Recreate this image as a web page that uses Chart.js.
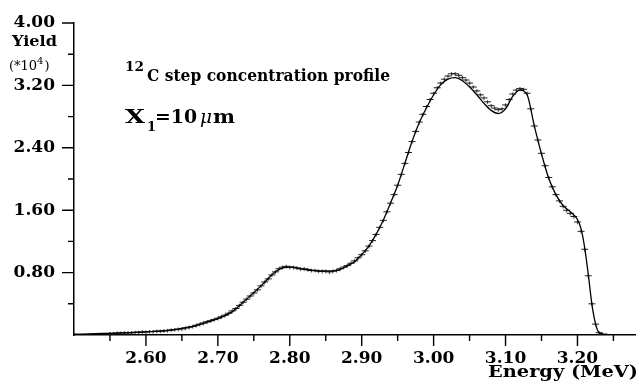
<!DOCTYPE html>
<html><head><meta charset="utf-8">
<script src="https://cdn.jsdelivr.net/npm/chart.js@4.4.0/dist/chart.umd.min.js"></script>
<style>html,body{margin:0;padding:0;background:#fff;}canvas{display:block;}</style>
</head><body>
<canvas id="c" width="640" height="381"></canvas>
<script>
// ---- data ----
const lineEnergy = [2.50,2.52,2.54,2.56,2.58,2.60,2.62,2.64,2.66,2.68,2.70,2.72,2.74,2.76,2.78,2.79,2.80,2.82,2.84,2.86,2.87,2.88,2.89,2.90,2.91,2.92,2.93,2.94,2.95,2.96,2.97,2.98,2.99,3.00,3.01,3.02,3.03,3.04,3.05,3.06,3.07,3.08,3.09,3.10,3.11,3.12,3.13,3.14,3.15,3.16,3.17,3.18,3.19,3.20,3.205,3.21,3.215,3.22,3.225,3.23,3.24,3.28];
const lineYield  = [0.01,0.015,0.02,0.025,0.03,0.04,0.05,0.07,0.10,0.15,0.21,0.30,0.46,0.63,0.81,0.86,0.87,0.84,0.82,0.82,0.84,0.89,0.94,1.03,1.14,1.29,1.47,1.69,1.92,2.20,2.48,2.72,2.91,3.08,3.21,3.28,3.30,3.26,3.18,3.08,2.97,2.88,2.84,2.90,3.06,3.14,3.08,2.68,2.32,2.01,1.80,1.66,1.58,1.48,1.36,1.12,0.78,0.40,0.15,0.03,0.005,0.005];

const pointEnergy = [
 2.550,2.555,2.560,2.565,2.570,2.575,2.580,2.585,2.590,2.595,
 2.600,2.605,2.610,2.615,2.620,2.625,2.630,2.635,2.640,2.645,
 2.650,2.655,2.660,2.665,2.670,2.675,2.680,2.685,2.690,2.695,
 2.700,2.705,2.710,2.715,2.720,2.725,2.730,2.735,2.740,2.745,
 2.750,2.755,2.760,2.765,2.770,2.775,2.780,2.785,2.790,2.795,
 2.800,2.805,2.810,2.815,2.820,2.825,2.830,2.835,2.840,2.845,
 2.850,2.855,2.860,2.865,2.870,2.875,2.880,2.885,2.890,2.895,
 2.900,2.905,2.910,2.915,2.920,2.925,2.930,2.935,2.940,2.945,
 2.950,2.955,2.960,2.965,2.970,2.975,2.980,2.985,2.990,2.995,
 3.000,3.005,3.010,3.015,3.020,3.025,3.030,3.035,3.040,3.045,
 3.050,3.055,3.060,3.065,3.070,3.075,3.080,3.085,3.090,3.095,
 3.100,3.105,3.110,3.115,3.120,3.125,3.130,3.135,3.140,3.145,
 3.150,3.155,3.160,3.165,3.170,3.175,3.180,3.185,3.190,3.195,
 3.200,3.205,3.210,3.215,3.220,3.225,3.230,3.235,3.240];
const pointYield = [
 0.02,0.02,0.025,0.025,0.03,0.03,0.03,0.035,0.035,0.04,
 0.04,0.045,0.045,0.05,0.05,0.055,0.06,0.065,0.07,0.075,
 0.08,0.09,0.10,0.11,0.125,0.14,0.155,0.17,0.185,0.20,
 0.215,0.235,0.255,0.28,0.31,0.34,0.38,0.42,0.46,0.50,
 0.54,0.58,0.63,0.68,0.72,0.77,0.81,0.85,0.87,0.88,
 0.87,0.87,0.86,0.85,0.85,0.84,0.83,0.83,0.82,0.82,
 0.82,0.81,0.82,0.83,0.85,0.87,0.89,0.92,0.95,0.99,
 1.03,1.08,1.14,1.21,1.29,1.38,1.47,1.58,1.69,1.80,
 1.92,2.06,2.20,2.34,2.48,2.61,2.73,2.83,2.93,3.02,
 3.10,3.17,3.23,3.28,3.32,3.35,3.35,3.33,3.30,3.27,
 3.23,3.18,3.13,3.08,3.04,2.99,2.94,2.91,2.89,2.90,
 2.95,3.02,3.09,3.14,3.16,3.15,3.10,2.90,2.68,2.50,
 2.33,2.17,2.02,1.90,1.80,1.72,1.65,1.60,1.56,1.52,
 1.45,1.33,1.10,0.76,0.40,0.14,0.03,0.01,0.005];

const xTickValues = [2.55,2.60,2.65,2.70,2.75,2.80,2.85,2.90,2.95,3.00,3.05,3.10,3.15,3.20,3.25];
const xTickLabels = ['2.60','2.70','2.80','2.90','3.00','3.10','3.20'];
const yTickValues = [0.4,0.8,1.2,1.6,2.0,2.4,2.8,3.2,3.6,4.0];
const yTickLabels = ['0.80','1.60','2.40','3.20','4.00'];

// ---- marker: short horizontal dash with tiny vertical bar ----
const mk = document.createElement('canvas');
mk.width = 9; mk.height = 7;
(function(){const g = mk.getContext('2d'); g.strokeStyle='#222'; g.lineWidth=1.2;
 g.beginPath(); g.moveTo(1,3.5); g.lineTo(8,3.5); g.moveTo(4.5,2); g.lineTo(4.5,5.5); g.stroke();})();

const BOLD = 'bold 17px "DejaVu Serif"';
function fitText(ctx, text, x, y, font, width, align){
  ctx.save(); ctx.font = font; ctx.textBaseline='alphabetic'; ctx.textAlign='left';
  const w = ctx.measureText(text).width; const s = width ? width / w : 1;
  let x0 = x; if(align==='right') x0 = x - w*s; else if(align==='center') x0 = x - w*s/2;
  ctx.translate(x0, y); ctx.scale(s,1); ctx.fillText(text,0,0); ctx.restore();
  return w*s;
}

const deco = {
  id:'deco',
  afterDraw(chart){
    const ctx = chart.ctx; const xs = chart.scales.x, ys = chart.scales.y;
    const ca = chart.chartArea;
    ctx.save(); ctx.strokeStyle='#000'; ctx.lineWidth=1.4;
    ctx.beginPath();
    xs.ticks.forEach(t=>{ const px = xs.getPixelForValue(t.value);
      const major = xTickLabels.includes(t.value.toFixed(2));
      ctx.moveTo(px, ca.bottom); ctx.lineTo(px, ca.bottom + (major?11:6)); });
    ys.ticks.forEach(t=>{ const py = ys.getPixelForValue(t.value);
      const major = yTickLabels.includes(t.value.toFixed(2));
      ctx.moveTo(ca.left, py); ctx.lineTo(ca.left - (major?12:6), py); });
    ctx.stroke();
    ctx.fillStyle='#000';
    // y-axis title
    fitText(ctx,'Yield',34.5,46,'bold 15px "DejaVu Serif"',45,'center');
    ctx.font='13px "DejaVu Serif"'; ctx.textAlign='left'; ctx.textBaseline='alphabetic';
    ctx.fillText('(*10',9,70);
    let w1 = ctx.measureText('(*10').width;
    ctx.font='10px "DejaVu Serif"'; ctx.fillText('4',9+w1,64);
    let w2 = ctx.measureText('4').width;
    ctx.font='13px "DejaVu Serif"'; ctx.fillText(')',9+w1+w2+1,70);
    // annotations
    fitText(ctx,'12',125,71,'bold 12px "DejaVu Serif"',19,'left');
    fitText(ctx,'C step concentration profile',147,81,BOLD,243,'left');
    fitText(ctx,'X',125,123,'bold 19px "DejaVu Serif"',20,'left');
    fitText(ctx,'1',147,131,'bold 13px "DejaVu Serif"',0,'left');
    fitText(ctx,'=10',155,123,'bold 18px "DejaVu Serif"',42,'left');
    fitText(ctx,'\u03bc',200,123,'italic 18px "DejaVu Serif"',12,'left');
    fitText(ctx,'m',213,123,'bold 18px "DejaVu Serif"',22,'left');
    // x-axis title
    fitText(ctx,'Energy (MeV)',638,377,'bold 16px "DejaVu Serif"',150,'right');
    ctx.restore();
  }
};

new Chart(document.getElementById('c'), {
  type:'scatter',
  data:{ datasets:[
    { type:'line', data: lineEnergy.map((e,i)=>({x:e,y:lineYield[i]})), borderColor:'#000', borderWidth:1.3,
      pointRadius:0, cubicInterpolationMode:'monotone', fill:false },
    { type:'scatter', data: pointEnergy.map((e,i)=>({x:e,y:pointYield[i]})), pointStyle: mk,
      pointRadius:4, borderColor:'#111', backgroundColor:'#111' }
  ]},
  options:{
    responsive:false, animation:false, devicePixelRatio:1,
    layout:{padding:{left:0,right:2,top:23,bottom:0}},
    plugins:{legend:{display:false}, tooltip:{enabled:false}},
    scales:{
      x:{ type:'linear', min:2.50, max:3.28,
        afterBuildTicks: s => { s.ticks = xTickValues.map(v=>({value:v})); },
        afterFit: s => { s.height = 46; s.paddingLeft = 0; s.paddingRight = 0; },
        grid:{display:false, drawTicks:false},
        border:{display:true, color:'#000', width:1.5},
        ticks:{ padding:13, color:'#000', font:{family:'DejaVu Serif', size:17, weight:'bold'},
          maxRotation:0, autoSkip:false,
          callback: v => { const s = Number(v).toFixed(2); return xTickLabels.includes(s) ? s : ''; } }
      },
      y:{ type:'linear', min:0, max:4.0,
        afterBuildTicks: s => { s.ticks = yTickValues.map(v=>({value:v})); },
        afterFit: s => { s.width = 74; s.paddingTop = 0; s.paddingBottom = 0; },
        grid:{display:false, drawTicks:false},
        border:{display:true, color:'#000', width:1.5},
        ticks:{ padding:19, color:'#000', font:{family:'DejaVu Serif', size:17, weight:'bold'}, autoSkip:false,
          callback: v => { const s = Number(v).toFixed(2); return yTickLabels.includes(s) ? s : ''; } }
      }
    }
  },
  plugins:[deco]
});
</script>
</body></html>
